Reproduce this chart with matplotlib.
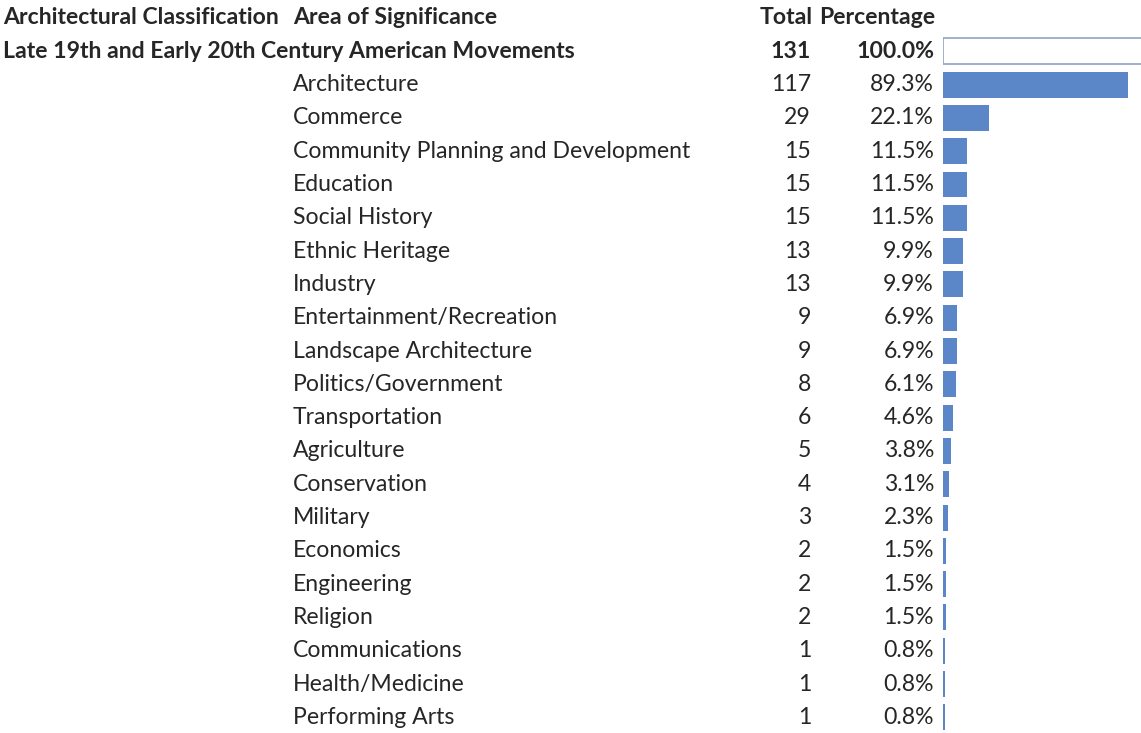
import matplotlib
matplotlib.use("Agg")
import matplotlib.pyplot as plt

plt.rcParams['font.family'] = ['Lato', 'DejaVu Sans']

classification = "Late 19th and Early 20th Century American Movements"
total_count = 131
total_pct = 100.0

areas = ["Architecture", "Commerce", "Community Planning and Development",
         "Education", "Social History", "Ethnic Heritage", "Industry",
         "Entertainment/Recreation", "Landscape Architecture",
         "Politics/Government", "Transportation", "Agriculture",
         "Conservation", "Military", "Economics", "Engineering", "Religion",
         "Communications", "Health/Medicine", "Performing Arts"]
counts = [117, 29, 15, 15, 15, 13, 13, 9, 9, 8, 6, 5, 4, 3, 2, 2, 2, 1, 1, 1]
pcts = [89.3, 22.1, 11.5, 11.5, 11.5, 9.9, 9.9, 6.9, 6.9, 6.1, 4.6, 3.8,
        3.1, 2.3, 1.5, 1.5, 1.5, 0.8, 0.8, 0.8]

headers = ["Architectural Classification", "Area of Significance", "Total", "Percentage"]

W, H = 1141, 733
fig = plt.figure(figsize=(W / 100, H / 100), dpi=100)
fig.patch.set_facecolor("white")

# rows: 0 header, 1 total row, 2.. categories
row_top = -0.54
row_bot = 21.47
txt = "#262626"
blue = "#5B87C8"
fs = 16.6

ax = fig.add_axes([0, 0, 1, 1])
ax.set_xlim(0, W)
ax.set_ylim(row_bot, row_top)
ax.axis("off")

bar_left = 943
bar_full = 207
axb = fig.add_axes([bar_left / W, 0, (W - bar_left) / W, 1])
axb.set_xlim(0, 100 * (W - bar_left) / bar_full)
axb.set_ylim(row_bot, row_top)
axb.axis("off")

# header row
ax.text(3, 0, headers[0], fontsize=fs, fontweight="bold", color=txt, va="center", ha="left")
ax.text(293, 0, headers[1], fontsize=fs, fontweight="bold", color=txt, va="center", ha="left")
ax.text(760, 0, headers[2], fontsize=fs, fontweight="bold", color=txt, va="center", ha="left")
ax.text(935, 0, headers[3], fontsize=fs, fontweight="bold", color=txt, va="center", ha="right")

# total row
ax.text(3, 1, classification, fontsize=fs, fontweight="bold", color=txt, va="center", ha="left")
ax.text(811, 1, str(total_count), fontsize=fs, fontweight="bold", color=txt, va="center", ha="right")
ax.text(934, 1, f"{total_pct:.1f}%", fontsize=fs, fontweight="bold", color=txt, va="center", ha="right")
axb.barh([1], [total_pct], height=0.78, left=0, color="white",
         edgecolor="#8FA4C0", linewidth=1.2)

rows = list(range(2, 2 + len(areas)))
for r, name, c, p in zip(rows, areas, counts, pcts):
    ax.text(293, r, name, fontsize=fs, color=txt, va="center", ha="left")
    ax.text(811, r, str(c), fontsize=fs, color=txt, va="center", ha="right")
    ax.text(934, r, f"{p:.1f}%", fontsize=fs, color=txt, va="center", ha="right")

axb.barh(rows, pcts, height=0.78, left=0, color=blue, linewidth=0)

fig.savefig("out.png", dpi=100, facecolor="white")
